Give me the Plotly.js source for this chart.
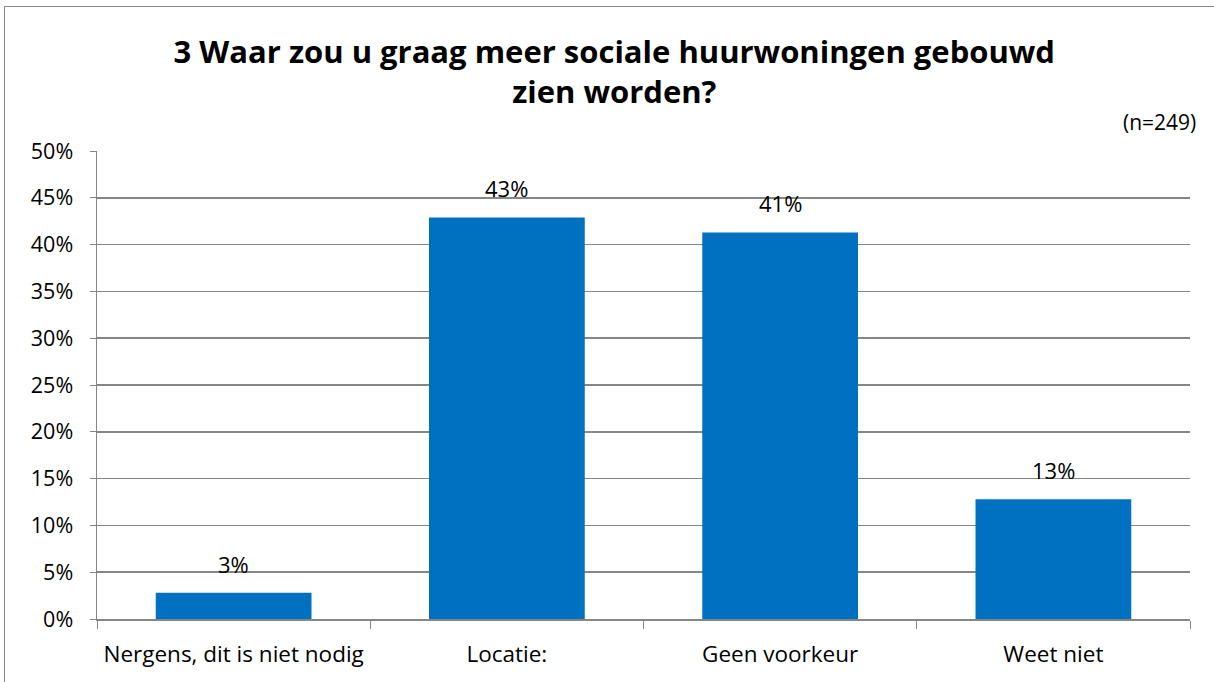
<!DOCTYPE html>
<html>
<head>
<meta charset="utf-8">
<script src="https://cdn.plot.ly/plotly-3.0.1.min.js"></script>
<style>
  html, body { margin: 0; padding: 0; background: #ffffff; }
  #chart { position: absolute; left: 0; top: 0; width: 1214px; height: 682px; }
  #frame { position: absolute; left: 4px; top: 6px; width: 1230px; height: 700px;
           border: 1px solid #898989; box-sizing: border-box; pointer-events: none; }
</style>
</head>
<body>
<div id="chart"></div>
<div id="frame"></div>
<script>
  // answers to question 3
  const categories = ["Nergens, dit is niet nodig", "Locatie:", "Geen voorkeur", "Weet niet"];
  const shares = [2.8, 42.9, 41.3, 12.8];
  const shareLabels = ["3%", "43%", "41%", "13%"];

  const font = "'Open Sans', Lato, sans-serif";

  const data = [
    {
      type: "bar",
      x: categories,
      y: shares,
      marker: { color: "#0070C0" },
      hoverinfo: "skip",
    },
  ];

  // value labels sit a little higher above the bars than plotly's own outside text
  const valueLabels = categories.map((c, i) => ({
    x: c,
    y: shares[i],
    xref: "x",
    yref: "y",
    text: shareLabels[i],
    showarrow: false,
    yanchor: "bottom",
    yshift: 12,
    font: { size: 22, family: font, color: "#000000" },
  }));

  const layout = {
    width: 1214,
    height: 682,
    paper_bgcolor: "rgba(0,0,0,0)",
    plot_bgcolor: "#ffffff",
    font: { family: font, color: "#000000", size: 21 },
    title: {
      text: "<b>3 Waar zou u graag meer sociale huurwoningen gebouwd<br>zien worden?</b>",
      font: { size: 31, family: font, color: "#000000" },
      xref: "container",
      yref: "container",
      x: 0.506,
      xanchor: "center",
      y: 0.908,
      yanchor: "middle",
    },
    margin: { l: 97, r: 24, t: 151, b: 63 },
    bargap: 0.43,
    showlegend: false,
    xaxis: {
      showline: true,
      linecolor: "#868686",
      linewidth: 1.5,
      ticks: "outside",
      tickson: "boundaries",
      ticklen: 8,
      tickcolor: "#868686",
      tickangle: 0,
      ticklabelstandoff: 14,
      tickfont: { size: 22.5, family: font },
      showgrid: false,
    },
    yaxis: {
      range: [0, 50],
      dtick: 5,
      ticksuffix: "%",
      showline: true,
      linecolor: "#868686",
      linewidth: 1.5,
      ticks: "outside",
      ticklen: 6,
      tickcolor: "#868686",
      gridcolor: "#868686",
      gridwidth: 1.5,
      zeroline: false,
      ticklabelstandoff: 12,
      tickfont: { size: 21.5, family: font },
    },
    annotations: valueLabels.concat([
      {
        text: "(n=249)",
        xref: "paper",
        yref: "paper",
        x: 1.0073,
        y: 1.027,
        xanchor: "right",
        yanchor: "bottom",
        showarrow: false,
        font: { size: 21, family: font, color: "#000000" },
      },
    ]),
  };

  Plotly.newPlot("chart", data, layout, { displayModeBar: false, staticPlot: true });
</script>
</body>
</html>
